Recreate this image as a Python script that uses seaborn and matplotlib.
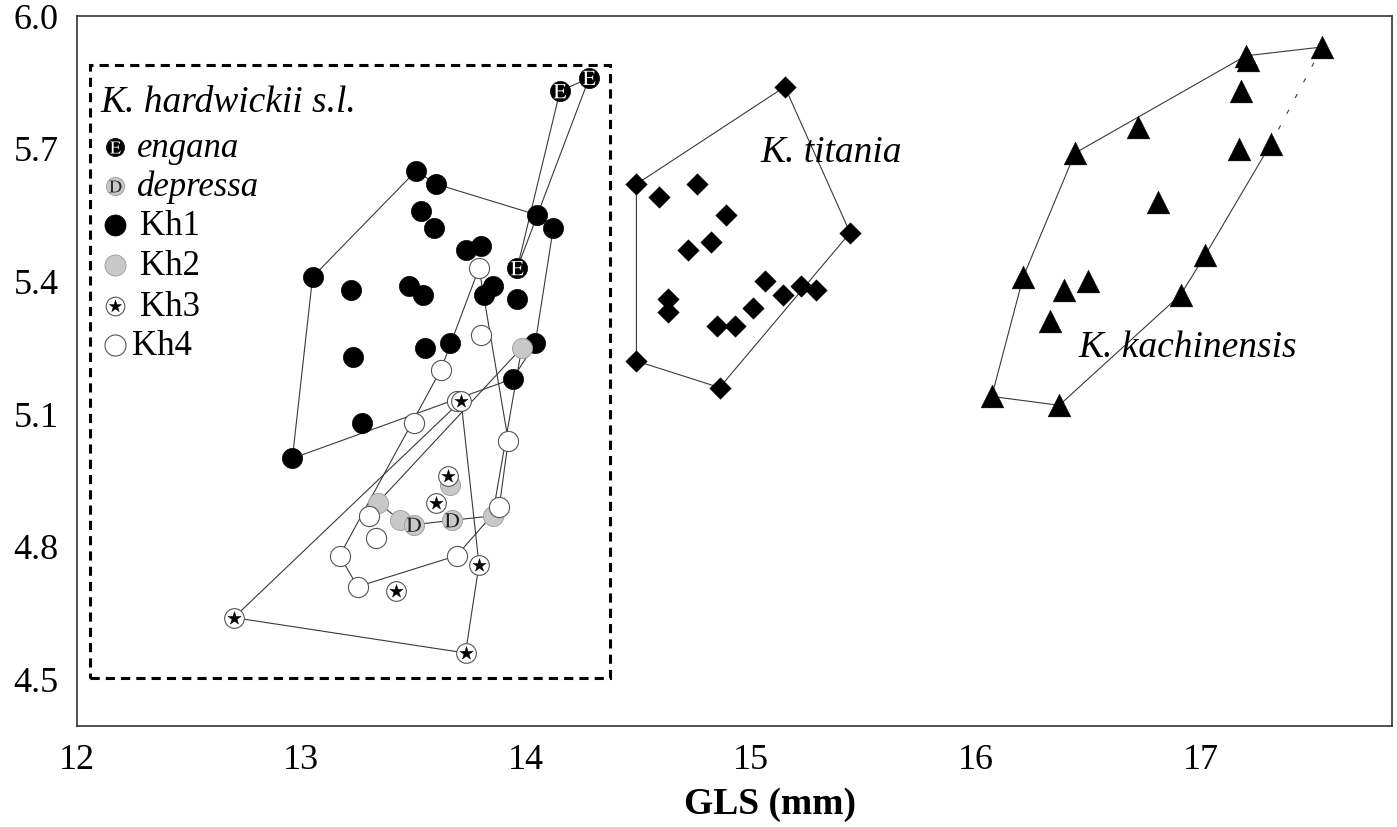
import numpy as np
import matplotlib
matplotlib.use('Agg')
import matplotlib.pyplot as plt
import seaborn as sns
from matplotlib.patches import Rectangle

# ---- data (GLS in mm vs second skull measure) ----
kh1_x = [13.51, 13.60, 13.53, 13.59, 13.05, 13.22, 13.48, 13.54, 13.73, 13.80,
         14.05, 14.12, 13.85, 13.81, 13.96, 13.23, 13.55, 13.66, 14.04, 13.94,
         13.27, 12.96]
kh1_y = [5.65, 5.62, 5.56, 5.52, 5.41, 5.38, 5.39, 5.37, 5.47, 5.48,
         5.55, 5.52, 5.39, 5.37, 5.36, 5.23, 5.25, 5.26, 5.26, 5.18,
         5.08, 5.00]
kh1_hull = [21, 4, 0, 1, 10, 11, 18, 19]

eng_x = [14.15, 14.28, 13.96]
eng_y = [5.83, 5.86, 5.43]
eng_hull = [0, 1, 2]

kh2_x = [13.98, 13.66, 13.34, 13.44, 13.85]
kh2_y = [5.25, 4.94, 4.90, 4.86, 4.87]
dep_x = [13.50, 13.67]
dep_y = [4.85, 4.86]
kh2_hull = [2, 0, 4, 6, 5, 3]  # indices into kh2 + depressa

kh3_x = [13.71, 13.65, 13.60, 13.79, 13.42, 12.70, 13.73]
kh3_y = [5.13, 4.96, 4.90, 4.76, 4.70, 4.64, 4.56]
kh3_hull = [5, 0, 3, 6]

kh4_x = [13.79, 13.80, 13.62, 13.50, 13.69, 13.92, 13.88, 13.30, 13.33, 13.17,
         13.69, 13.25]
kh4_y = [5.43, 5.28, 5.20, 5.08, 5.13, 5.04, 4.89, 4.87, 4.82, 4.78,
         4.78, 4.71]
kh4_hull = [0, 2, 9, 11, 10, 6, 5]

tit_x = [15.15, 14.49, 14.59, 14.76, 14.89, 14.82, 14.72, 15.44, 15.06, 15.14,
         15.22, 15.29, 14.63, 14.63, 15.01, 14.85, 14.93, 14.49, 14.86]
tit_y = [5.84, 5.62, 5.59, 5.62, 5.55, 5.49, 5.47, 5.51, 5.40, 5.37,
         5.39, 5.38, 5.36, 5.33, 5.34, 5.30, 5.30, 5.22, 5.16]
tit_hull = [1, 0, 7, 18, 17]

kach_x = [17.54, 17.20, 17.21, 17.18, 16.72, 16.44, 17.17, 17.31, 16.81, 17.02,
          16.21, 16.50, 16.39, 16.91, 16.33, 16.07, 16.37]
kach_y = [5.93, 5.91, 5.90, 5.83, 5.75, 5.69, 5.70, 5.71, 5.58, 5.46,
          5.41, 5.40, 5.38, 5.37, 5.31, 5.14, 5.12]
kach_hull = [7, 9, 13, 16, 15, 10, 5, 1, 0]
kach_gap = [0, 7]  # edge drawn broken in the original

legend_labels = ['engana', 'depressa', 'Kh1', 'Kh2', 'Kh3', 'Kh4']
x_ticks = [12, 13, 14, 15, 16, 17]
y_ticks = [4.5, 4.8, 5.1, 5.4, 5.7, 6.0]

# ---- style ----
sns.set_theme(style='white')
plt.rcParams['font.family'] = ['Liberation Serif', 'DejaVu Serif']
plt.rcParams['mathtext.fontset'] = 'stix'
plt.rcParams['text.color'] = 'black'
plt.rcParams['axes.labelcolor'] = 'black'
plt.rcParams['xtick.color'] = 'black'
plt.rcParams['ytick.color'] = 'black'

W, H = 1397, 827
fig = plt.figure(figsize=(W / 100, H / 100), dpi=100)
ax = fig.add_axes([76.5 / W, 1 - 726 / H, 1315.5 / W, 710 / H])


def fpx(x, y):
    """pixel position in the figure -> figure fraction"""
    return x / W, 1 - y / H


LINE = '#3a3a3a'


def draw_hull(xs, ys, order, closed=True, **kw):
    idx = list(order) + ([order[0]] if closed else [])
    ax.plot([xs[i] for i in idx], [ys[i] for i in idx], color=LINE, lw=0.8,
            zorder=1, **kw)


draw_hull(kh1_x, kh1_y, kh1_hull)
draw_hull(eng_x, eng_y, eng_hull)
draw_hull(kh2_x + dep_x, kh2_y + dep_y, kh2_hull)
draw_hull(kh3_x, kh3_y, kh3_hull)
draw_hull(kh4_x, kh4_y, kh4_hull)
draw_hull(tit_x, tit_y, tit_hull)
draw_hull(kach_x, kach_y, kach_hull, closed=False)
draw_hull(kach_x, kach_y, kach_gap, closed=False, linestyle=(0, (4, 12)))

# ---- points ----
sns.scatterplot(x=kh1_x, y=kh1_y, ax=ax, s=210, color='black', edgecolor='black',
                linewidth=0.5, zorder=3, legend=False)
sns.scatterplot(x=eng_x, y=eng_y, ax=ax, s=210, color='black', edgecolor='black',
                linewidth=0.5, zorder=3, legend=False)
sns.scatterplot(x=eng_x, y=eng_y, ax=ax, s=105, marker=r'$\mathrm{E}$', color='white',
                edgecolor='none', linewidth=0, zorder=4, legend=False)
sns.scatterplot(x=kh2_x, y=kh2_y, ax=ax, s=210, color='#c8c8c8', edgecolor='#9a9a9a',
                linewidth=0.6, zorder=3, legend=False)
sns.scatterplot(x=dep_x, y=dep_y, ax=ax, s=210, color='#c8c8c8', edgecolor='#9a9a9a',
                linewidth=0.6, zorder=3, legend=False)
sns.scatterplot(x=dep_x, y=dep_y, ax=ax, s=105, marker=r'$\mathrm{D}$', color='#222222',
                edgecolor='none', linewidth=0, zorder=4, legend=False)
sns.scatterplot(x=kh4_x, y=kh4_y, ax=ax, s=210, color='white', edgecolor='#555555',
                linewidth=0.8, zorder=5, legend=False)
sns.scatterplot(x=kh3_x, y=kh3_y, ax=ax, s=200, color='white', edgecolor='#555555',
                linewidth=0.8, zorder=6, legend=False)
sns.scatterplot(x=kh3_x, y=kh3_y, ax=ax, s=100, marker='*', color='black',
                edgecolor='black', linewidth=0.3, zorder=7, legend=False)
sns.scatterplot(x=tit_x, y=tit_y, ax=ax, s=120, marker='D', color='black',
                edgecolor='black', linewidth=0.3, zorder=3, legend=False)
sns.scatterplot(x=kach_x, y=kach_y, ax=ax, s=270, marker='^', color='black',
                edgecolor='black', linewidth=0.3, zorder=3, legend=False)

# ---- dashed box around K. hardwickii ----
box_x0, box_y0 = 12.06, 4.504
box_x1, box_y1 = 14.371, 5.889
ax.add_patch(Rectangle((box_x0, box_y0), box_x1 - box_x0, box_y1 - box_y0,
                       fill=False, edgecolor='black', lw=2.2,
                       linestyle=(0, (3, 2)), zorder=2))

# ---- species labels ----
ax.text(*fpx(760, 162), 'K. titania', transform=fig.transFigure, fontsize=27,
        style='italic', ha='left', va='baseline', zorder=8)
ax.text(*fpx(1078, 357), 'K. kachinensis', transform=fig.transFigure, fontsize=27,
        style='italic', ha='left', va='baseline', zorder=8)

# ---- legend, drawn by hand inside the dashed box ----
ax.text(*fpx(100, 112), 'K. hardwickii s.l.', transform=fig.transFigure,
        fontsize=27, style='italic', ha='left', va='baseline')
row_y = [147, 186, 225, 265, 306, 345]
text_x = [137, 137, 140, 140, 140, 132]
mk_x = 115
styles = [
    dict(s=170, c='black', edgecolors='black', linewidths=0.5),
    dict(s=170, c='#c8c8c8', edgecolors='#9a9a9a', linewidths=0.6),
    dict(s=230, c='black', edgecolors='black', linewidths=0.5),
    dict(s=230, c='#c8c8c8', edgecolors='#9a9a9a', linewidths=0.6),
    dict(s=180, c='white', edgecolors='#555555', linewidths=0.8),
    dict(s=230, c='white', edgecolors='#555555', linewidths=0.8),
]
for lab, ry, tx, st in zip(legend_labels, row_y, text_x, styles):
    fx, fy = fpx(mk_x, ry)
    ax.scatter([fx], [fy], transform=fig.transFigure, clip_on=False, zorder=9, **st)
    if lab == 'engana':
        ax.scatter([fx], [fy], transform=fig.transFigure, clip_on=False, zorder=10,
                   s=75, marker=r'$\mathrm{E}$', c='white', linewidths=0)
    elif lab == 'depressa':
        ax.scatter([fx], [fy], transform=fig.transFigure, clip_on=False, zorder=10,
                   s=75, marker=r'$\mathrm{D}$', c='#222222', linewidths=0)
    elif lab == 'Kh3':
        ax.scatter([fx], [fy], transform=fig.transFigure, clip_on=False, zorder=10,
                   s=85, marker='*', c='black', linewidths=0.3)
    ax.text(*fpx(tx, ry + 10), lab, transform=fig.transFigure, fontsize=25,
            style='italic' if lab in ('engana', 'depressa') else 'normal',
            ha='left', va='baseline')

# ---- axes ----
ax.set_xlim(12, 17.85)
ax.set_ylim(4.395, 6.0)
ax.set_xticks(x_ticks)
ax.set_yticks(y_ticks)
ax.set_xticklabels([str(t) for t in x_ticks])
ax.set_yticklabels([f'{t:.1f}' for t in y_ticks])
ax.tick_params(axis='both', direction='out', length=5, width=1, color='#888888',
               labelsize=26, labelcolor='black')
ax.tick_params(axis='x', pad=8)
ax.tick_params(axis='y', pad=8)
for side in ['left', 'bottom', 'top', 'right']:
    ax.spines[side].set_color('#333333')
    ax.spines[side].set_linewidth(1.2)
    ax.spines[side].set_visible(True)
ax.grid(False)

ax.set_xlabel('GLS (mm)', fontsize=27, fontweight='bold', color='black')
ax.xaxis.set_label_coords((770 - 76.5) / 1315.5, (726 - 805) / 710)
ax.xaxis.label.set_va('center')
ax.set_ylabel('')

fig.savefig('out.png', dpi=100)
